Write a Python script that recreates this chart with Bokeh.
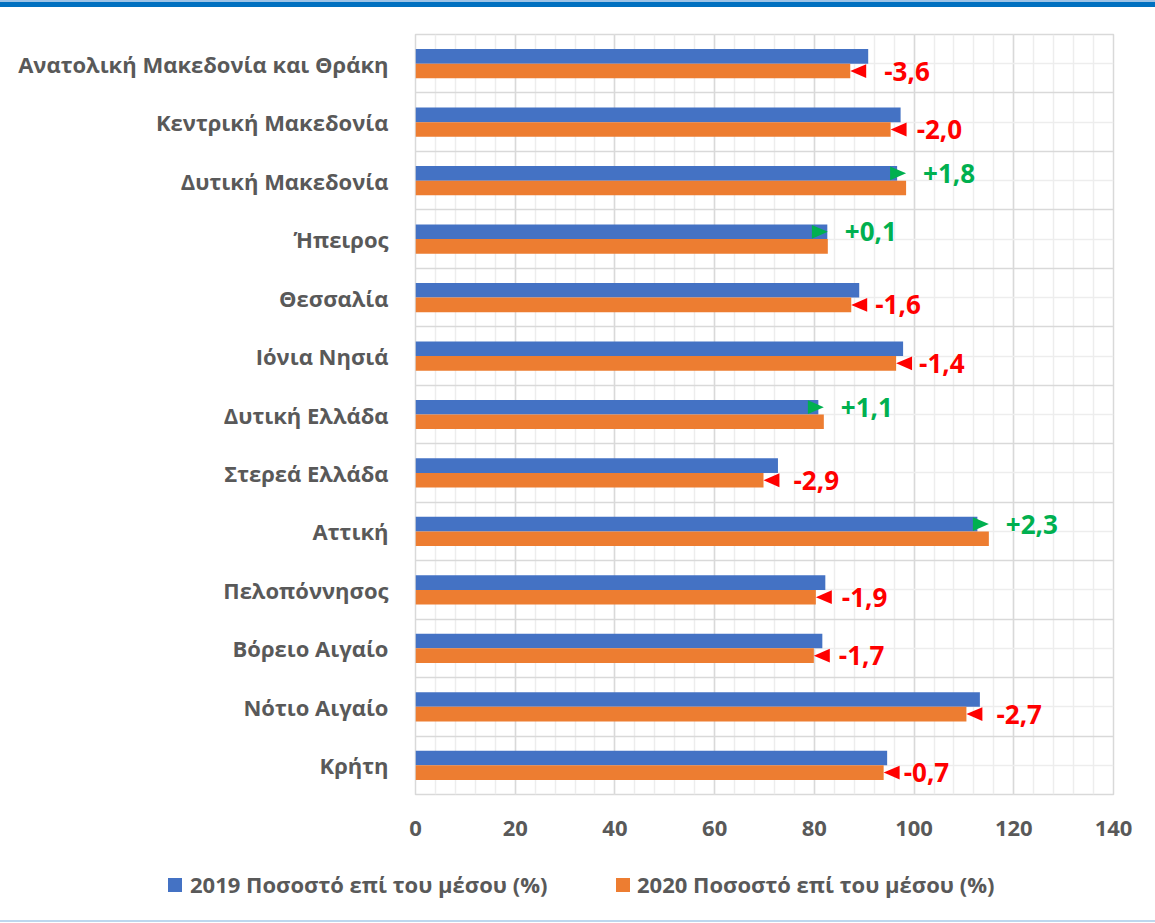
from bokeh.plotting import figure
from bokeh.models import (Range1d, FixedTicker, ColumnDataSource, Div)
from bokeh.layouts import column
from bokeh.core.properties import value
from bokeh.embed import file_html
from bokeh.resources import INLINE

regions = ["Ανατολική Μακεδονία και Θράκη", "Κεντρική Μακεδονία", "Δυτική Μακεδονία",
           "Ήπειρος", "Θεσσαλία", "Ιόνια Νησιά", "Δυτική Ελλάδα", "Στερεά Ελλάδα",
           "Αττική", "Πελοπόννησος", "Βόρειο Αιγαίο", "Νότιο Αιγαίο", "Κρήτη"]
v2019 = [90.8, 97.3, 96.6, 82.6, 89.0, 97.8, 80.8, 72.7, 112.7, 82.2, 81.6, 113.2, 94.6]
v2020 = [87.2, 95.3, 98.4, 82.7, 87.4, 96.4, 81.9, 69.8, 115.0, 80.3, 79.9, 110.5, 93.9]
change = [-3.6, -2.0, 1.8, 0.1, -1.6, -1.4, 1.1, -2.9, 2.3, -1.9, -1.7, -2.7, -0.7]
x_ticks = [0, 20, 40, 60, 80, 100, 120, 140]
series_names = ["2019 Ποσοστό επί του μέσου (%)", "2020 Ποσοστό επί του μέσου (%)"]

# label pixel offsets (layout only)
label_dx = [34, 26, 17, 17, 24, 23, 17, 30, 17, 26, 25, 30, 20]

FONT = value("Open Sans")
GRAY = "#595959"
BLUE = "#4472C4"
ORANGE = "#ED7D31"
RED = "#FF0000"
GREEN = "#00B050"
series_colors = [BLUE, ORANGE]

n = len(regions)
centers = [n - 0.5 - i for i in range(n)]
BAR_H = 0.25
y_blue = [c + BAR_H / 2 for c in centers]
y_orange = [c - BAR_H / 2 for c in centers]

W = 1155
H = 853
p = figure(width=W, height=H, output_backend="svg", toolbar_location=None,
           x_range=Range1d(0, 140), y_range=Range1d(0, n),
           min_border_left=415, min_border_right=W - 1113, min_border_top=27,
           min_border_bottom=H - 27 - 760)
p.background_fill_color = "white"
p.border_fill_color = "white"
p.outline_line_color = "#D9D9D9"
p.outline_line_width = 1.5

p.hbar(y=y_blue, left=0, right=v2019, height=BAR_H, fill_color=BLUE, line_color=None)
p.hbar(y=y_orange, left=0, right=v2020, height=BAR_H, fill_color=ORANGE, line_color=None)

# arrows
AW = 3.2
AH = 0.118
rx, ry, gx, gy = [], [], [], []
for i in range(n):
    t = v2020[i]
    if change[i] < 0:
        yc = y_orange[i]
        rx.append([t, t + AW, t + AW]); ry.append([yc, yc + AH, yc - AH])
    else:
        yc = y_blue[i]
        gx.append([t, t - AW, t - AW]); gy.append([yc, yc + AH, yc - AH])
p.patches(rx, ry, fill_color=RED, line_color=None)
p.patches(gx, gy, fill_color=GREEN, line_color=None)

# change labels
lab_txt = [("+" if c > 0 else "-") + f"{abs(c):.1f}".replace(".", ",") for c in change]
lab_y = [y_blue[i] if change[i] > 0 else y_orange[i] for i in range(n)]
lab_col = [GREEN if c > 0 else RED for c in change]
src = ColumnDataSource(dict(x=v2020, y=lab_y, t=lab_txt, c=lab_col, dx=label_dx))
p.text(x="x", y="y", text="t", text_color="c", x_offset="dx", source=src,
       text_baseline="middle", text_align="left", text_font=FONT,
       text_font_style="bold", text_font_size="26px")

# axes
p.xaxis.ticker = FixedTicker(ticks=x_ticks, minor_ticks=[v for v in range(0, 141, 4)])
p.xaxis.axis_line_color = None
p.xaxis.major_tick_line_color = None
p.xaxis.minor_tick_line_color = None
p.xaxis.major_label_standoff = 20
p.xaxis.major_label_text_font = "Open Sans"
p.xaxis.major_label_text_font_style = "bold"
p.xaxis.major_label_text_font_size = "22px"
p.xaxis.major_label_text_color = GRAY

p.yaxis.ticker = FixedTicker(ticks=centers)
p.yaxis.major_label_overrides = {centers[i]: regions[i] for i in range(n)}
p.yaxis.axis_line_color = None
p.yaxis.major_tick_line_color = None
p.yaxis.minor_tick_line_color = None
p.yaxis.major_label_standoff = 21
p.yaxis.major_label_text_font = "Open Sans"
p.yaxis.major_label_text_font_style = "bold"
p.yaxis.major_label_text_font_size = "22px"
p.yaxis.major_label_text_color = GRAY

# grids
p.xgrid.grid_line_color = "#D9D9D9"
p.xgrid.grid_line_width = 1.5
p.xgrid.minor_grid_line_color = "#EDEDED"
p.xgrid.minor_grid_line_width = 1.5
p.ygrid.ticker = FixedTicker(ticks=list(range(n + 1)), minor_ticks=centers)
p.ygrid.grid_line_color = "#D9D9D9"
p.ygrid.grid_line_width = 1.5
p.ygrid.minor_grid_line_color = "#EDEDED"
p.ygrid.minor_grid_line_width = 1.5

# legend (HTML, below the plot)
leg_sq_left = [168, 616]
leg_tx_left = [190, 637]
parts = []
for k in range(2):
    parts.append(f'<div style="position:absolute;left:{leg_sq_left[k]}px;top:18px;width:14px;'
                 f'height:14px;background:{series_colors[k]}"></div>')
    parts.append(f'<div style="position:absolute;left:{leg_tx_left[k]}px;top:9px;'
                 f'white-space:nowrap">{series_names[k]}</div>')
leg_html = ('<div style="position:relative;width:%dpx;height:60px;font-family:\'Open Sans\';'
            'font-weight:700;font-size:22px;line-height:30px;color:%s">%s</div>'
            % (W, GRAY, "".join(parts)))
leg = Div(text=leg_html, width=W, height=60, margin=(0, 0, 0, 0))

top = Div(width=W, height=7, margin=(0, 0, 0, 0),
          styles={"background": "linear-gradient(#9DC3E6 0px, #9DC3E6 2px, #0070C0 2px, #0070C0 7px)"})
bot = Div(width=W, height=2, margin=(0, 0, 0, 0), styles={"background-color": "#BDD7EE"})
layout = column(top, p, leg, bot, spacing=0)

open("out.html", "w").write(file_html(layout, INLINE))
